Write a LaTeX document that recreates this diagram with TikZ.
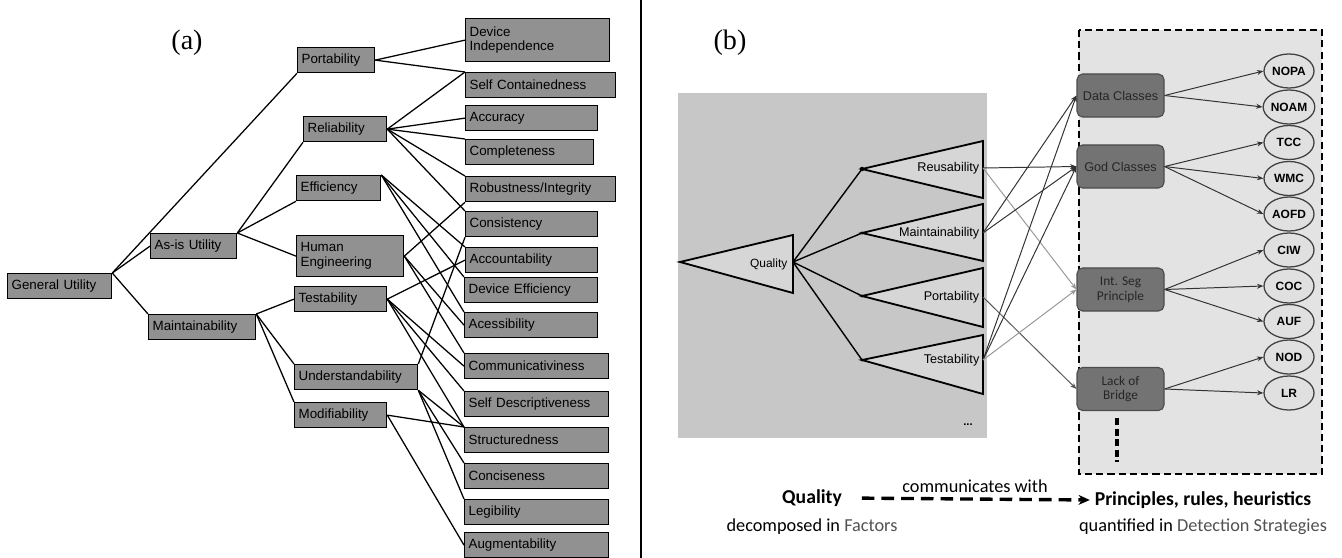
\documentclass[tikz,border=0pt]{standalone}
\usepackage{fontspec}
\setmainfont{Liberation Sans}
\newfontfamily\serifface{Liberation Serif}
\newfontfamily\legendface{Carlito}
\usetikzlibrary{arrows.meta,shapes.geometric}

\definecolor{boxgray}{gray}{0.57}
\definecolor{panelgray}{gray}{0.78}
\definecolor{trigray}{gray}{0.84}
\definecolor{boxlight}{gray}{0.89}
\definecolor{stratgray}{gray}{0.45}
\definecolor{ellgray}{gray}{0.88}
\definecolor{subgray}{gray}{0.32}

\begin{document}
\begin{tikzpicture}[x=0.025cm,y=-0.025cm,
	qbox/.style={draw, line width=0.9pt, fill=boxgray, anchor=north west, inner sep=0.1cm, align=left, minimum height=0.625cm, font=\fontsize{9.5}{10.5}\selectfont},
	edge/.style={line width=0.9pt},
	factri/.style={draw, line width=1.3pt, fill=trigray, line join=miter},
	flow/.style={line width=1pt},
	link/.style={line width=0.7pt, draw=black!80, -{Stealth[length=4.5pt,width=3.5pt]}},
	faint/.style={link, draw=black!40},
	sbox/.style={draw=black!70, line width=0.8pt, fill=stratgray, rounded corners=4pt, minimum width=2.175cm, minimum height=1.075cm, align=center, inner sep=1pt, text=black!85, font=\fontsize{9}{10}\selectfont},
	metric/.style={ellipse, draw=black!75, line width=0.9pt, fill=ellgray, minimum width=1.25cm, minimum height=0.85cm, inner sep=0pt, font=\bfseries\fontsize{8.5}{9}\selectfont},
	]
	\useasboundingbox[fill=white] (0,0) rectangle (1342,558);
	
	% divider
	\draw[line width=1.2pt] (641,0) -- (641,558);
	
	% ---------- (a) ----------
	\node[font=\serifface\fontsize{20}{22}\selectfont] (lbla) at (187,43) {(a)};
	
	\node[qbox, text width=2.4cm] (gu) at (7,273) {General Utility};
	\node[qbox, text width=1.95cm] (asis) at (150,233) {As-is Utility};
	\node[qbox, text width=2.475cm] (maint) at (148,314) {Maintainability};
	
	\node[qbox, text width=1.725cm] (port) at (297,47) {Portability};
	\node[qbox, text width=1.875cm] (rel) at (303,116) {Reliability};
	\node[qbox, text width=1.9cm] (eff) at (296,175) {Efficiency};
	\node[qbox, text width=2.475cm, minimum height=1.025cm] (hum) at (296,235) {Human\\Engineering};
	\node[qbox, text width=2.1cm] (test) at (294,286) {Testability};
	\node[qbox, text width=2.875cm] (und) at (294,364) {Understandability};
	\node[qbox, text width=2.1cm] (mod) at (294,402) {Modifiability};
	
	\node[qbox, text width=3.4cm, minimum height=1.075cm] (devind) at (465,18) {Device\\Independence};
	\node[qbox, text width=3.55cm] (selfc) at (465,72) {Self Containedness};
	\node[qbox, text width=3.1cm] (acc) at (465,105) {Accuracy};
	\node[qbox, text width=3.0cm] (compl) at (465,139) {Completeness};
	\node[qbox, text width=3.55cm] (robust) at (465,176) {Robustness/Integrity};
	\node[qbox, text width=3.1cm] (consis) at (465,211) {Consistency};
	\node[qbox, text width=3.1cm] (accnt) at (465,247) {Accountability};
	\node[qbox, text width=3.125cm] (deveff) at (464,277) {Device Efficiency};
	\node[qbox, text width=3.125cm] (acess) at (464,312) {Acessibility};
	\node[qbox, text width=3.4cm] (comm) at (464,353) {Communicativiness};
	\node[qbox, text width=3.4cm] (selfd) at (464,391) {Self Descriptiveness};
	\node[qbox, text width=3.4cm] (struct) at (464,427) {Structuredness};
	\node[qbox, text width=3.4cm] (conc) at (464,463) {Conciseness};
	\node[qbox, text width=3.4cm] (leg) at (464,499) {Legibility};
	\node[qbox, text width=3.4cm] (aug) at (464,532) {Augmentability};
	
	\draw[edge] (gu.north east) -- (port.south west);
	\draw[edge] (gu.north east) -- (asis.west);
	\draw[edge] (gu.north east) -- (maint.north west);
	
	\draw[edge] (asis.north east) -- (rel.south west);
	\draw[edge] (asis.north east) -- (eff.south west);
	\draw[edge] (asis.north east) -- (hum.west);
	
	\draw[edge] (maint.north east) -- (test.west);
	\draw[edge] (maint.north east) -- (und.north west);
	\draw[edge] (maint.north east) -- (mod.north west);
	
	\draw[edge] (port.east) -- (devind.west);
	\draw[edge] (port.east) -- (selfc.north west);
	
	\draw[edge] (rel.east) -- (selfc.north west);
	\draw[edge] (rel.east) -- (acc.west);
	\draw[edge] (rel.east) -- (compl.north west);
	\draw[edge] (rel.east) -- (robust.north west);
	\draw[edge] (rel.east) -- (consis.north west);
	
	\draw[edge] (eff.north east) -- (accnt.north west);
	\draw[edge] (eff.north east) -- (deveff.north west);
	\draw[edge] (eff.north east) -- (acess.north west);
	
	\draw[edge] (hum.east) -- (robust.south west);
	\draw[edge] (hum.east) -- (acess.west);
	\draw[edge] (hum.east) -- (comm.north west);
	
	\draw[edge] (test.east) -- (accnt.west);
	\draw[edge] (test.east) -- (comm.west);
	\draw[edge] (test.east) -- (selfd.north west);
	\draw[edge] (test.east) -- (struct.north west);
	
	\draw[edge] (und.north east) -- (consis.south west);
	\draw[edge] (und.south east) -- (struct.north west);
	\draw[edge] (und.south east) -- (conc.north west);
	\draw[edge] (und.south east) -- (leg.north west);
	
	\draw[edge] (mod.east) -- (struct.north west);
	\draw[edge] (mod.east) -- (aug.west);
	
	% ---------- (b) ----------
	\node[font=\serifface\fontsize{20}{22}\selectfont] (lblb) at (730,43) {(b)};
	
	\fill[panelgray] (678,93) rectangle (987,438);
	\draw[dash pattern=on 5pt off 3pt, line width=1.5pt, fill=boxlight] (1079,30) rectangle (1322,474);
	
	% quality and its factors
	\draw[factri] (680,262) -- (793,235) -- (793,293) -- cycle;
	\coordinate (qualR) at (793,262);
	\node[anchor=east, inner sep=1pt, font=\fontsize{8.5}{9}\selectfont] (qual) at (789,264) {Quality};
	
	\draw[factri] (862,169) -- (983,141) -- (983,198) -- cycle;
	\draw[factri] (862,233) -- (983,204) -- (983,261) -- cycle;
	\draw[factri] (862,296) -- (983,268) -- (983,327) -- cycle;
	\draw[factri] (862,360) -- (983,335) -- (983,394) -- cycle;
	\coordinate (reusA) at (862,169);
	\coordinate (maintA) at (862,233);
	\coordinate (portA) at (862,296);
	\coordinate (testA) at (862,360);
	\coordinate (reusR) at (983,168);
	\coordinate (maintR) at (983,233);
	\coordinate (portR) at (983,297);
	\coordinate (testR) at (983,360);
	\node[anchor=east, inner sep=1pt, font=\fontsize{9}{10}\selectfont] (reus) at (981,168) {Reusability};
	\node[anchor=east, inner sep=1pt, font=\fontsize{9}{10}\selectfont] (maintb) at (981,233) {Maintainability};
	\node[anchor=east, inner sep=1pt, font=\fontsize{9}{10}\selectfont] (portb) at (981,297) {Portability};
	\node[anchor=east, inner sep=1pt, font=\fontsize{9}{10}\selectfont] (testb) at (981,360) {Testability};
	\node[font=\bfseries\fontsize{8}{9}\selectfont] (etc) at (968,425) {...};
	
	\draw[flow] (qualR) -- (reusA);
	\draw[flow] (qualR) -- (maintA);
	\draw[flow] (qualR) -- (portA);
	\draw[flow] (qualR) -- (testA);
	\fill (reusA) circle (1.6pt);
	\fill (maintA) circle (1.2pt);
	\fill (portA) circle (1.2pt);
	\fill (testA) circle (1.2pt);
	
	% strategies
	\node[sbox] (data) at (1120.5,95.5) {Data Classes};
	\node[sbox] (god) at (1120.5,166.5) {God Classes};
	\node[sbox, font=\legendface\fontsize{9.5}{10.5}\selectfont] (intseg) at (1120.5,289.5) {Int. Seg\\Principle};
	\node[sbox, font=\legendface\fontsize{9.5}{10.5}\selectfont] (lack) at (1120.5,389) {Lack of\\Bridge};
	\coordinate (moretop) at (1117,418);
	\coordinate (morebot) at (1117,462);
	\draw[line width=2.4pt, dash pattern=on 5pt off 2.5pt] (moretop) -- (morebot);
	
	% metrics
	\node[metric] (nopa) at (1289,71) {NOPA};
	\node[metric] (noam) at (1289,107) {NOAM};
	\node[metric] (tcc) at (1289,142.5) {TCC};
	\node[metric] (wmc) at (1289,178.5) {WMC};
	\node[metric] (aofd) at (1289,214) {AOFD};
	\node[metric] (ciw) at (1289,250) {CIW};
	\node[metric] (coc) at (1289,286) {COC};
	\node[metric] (auf) at (1289,321.5) {AUF};
	\node[metric] (nod) at (1289,357) {NOD};
	\node[metric] (lr) at (1289,393) {LR};
	
	\draw[link] (reusR) -- (god.west);
	\draw[faint] (reusR) -- (intseg.west);
	\draw[link] (maintR) -- (data.west);
	\draw[link] (maintR) -- (god.west);
	\draw[link, draw=black!65] (portR) -- (lack.west);
	\draw[link] (testR) -- (data.west);
	\draw[link] (testR) -- (god.west);
	\draw[faint] (testR) -- (intseg.west);
	
	\draw[link] (data.east) -- (nopa.west);
	\draw[link] (data.east) -- (noam.west);
	\draw[link] (god.east) -- (tcc.west);
	\draw[link] (god.east) -- (wmc.west);
	\draw[link] (god.east) -- (aofd.west);
	\draw[link] (intseg.east) -- (ciw.west);
	\draw[link] (intseg.east) -- (coc.west);
	\draw[link] (intseg.east) -- (auf.west);
	\draw[link] (lack.east) -- (nod.west);
	\draw[link] (lack.east) -- (lr.west);
	
	% legend
	\node[font=\legendface\bfseries\fontsize{14}{16}\selectfont] (qleg) at (812,498) {Quality};
	\node[font=\legendface\fontsize{13}{15}\selectfont] (qsub) at (812,527) {decomposed in {\color{subgray}Factors}};
	\node[font=\legendface\bfseries\fontsize{14}{16}\selectfont] (pleg) at (1203,500) {Principles, rules, heuristics};
	\node[font=\legendface\fontsize{13}{15}\selectfont] (psub) at (1203,527) {quantified in {\color{subgray}Detection Strategies}};
	\node[font=\legendface\fontsize{13}{15}\selectfont] (commw) at (975,486) {communicates with};
	\draw[line width=2.4pt, dash pattern=on 9pt off 5pt, shorten <=0.375cm, -{Stealth[length=8pt,width=7pt]}] (qleg.east) -- (pleg.west);
\end{tikzpicture}
\end{document}
